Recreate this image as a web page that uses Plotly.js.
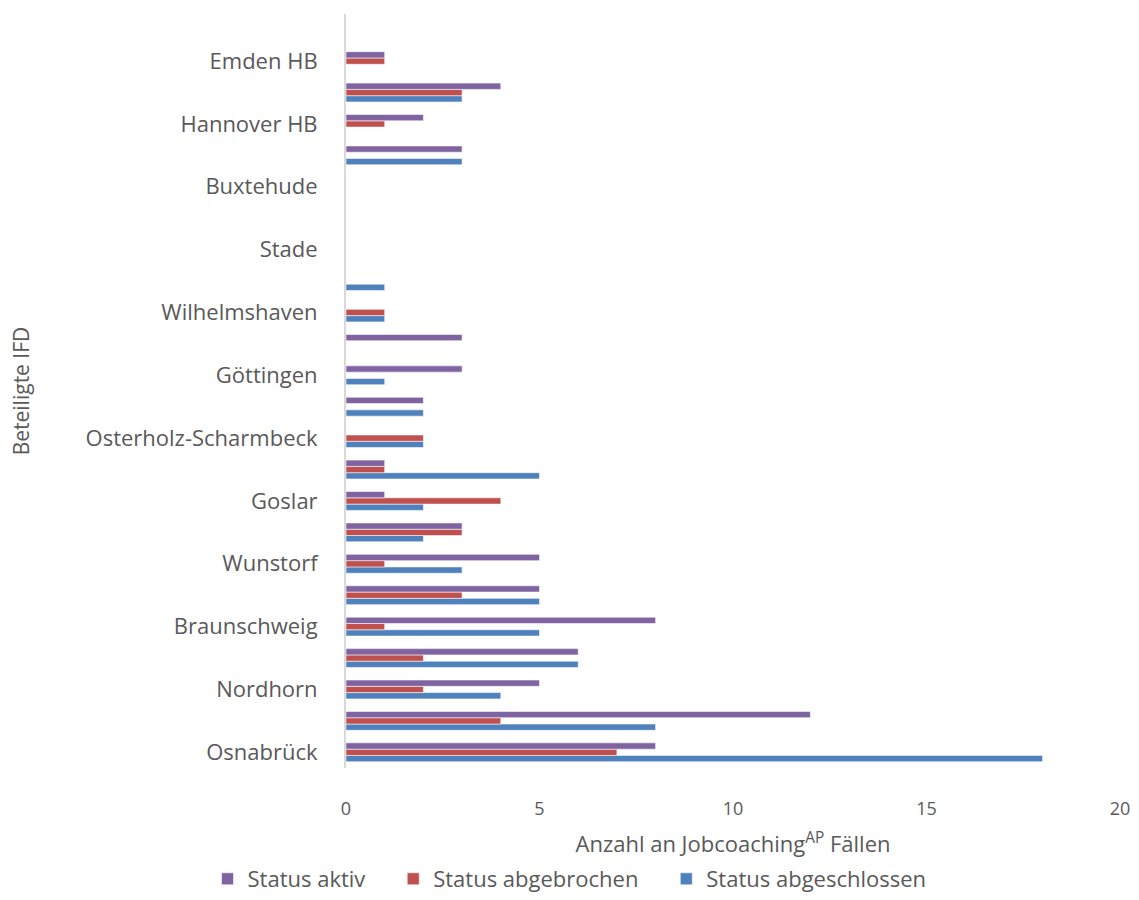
<!DOCTYPE html>
<html>
<head>
<meta charset="utf-8">
<script src="https://cdn.plot.ly/plotly-3.0.1.min.js"></script>
<style>html,body{margin:0;padding:0;background:#fff;}#chart{width:1139px;height:900px;}</style>
</head>
<body>
<div id="chart"></div>
<script>
// Categories from bottom (Osnabrück) to top (Emden HB); unlabeled rows in the original are placeholders
const categories = [
  "Osnabrück", "Zeile 2", "Nordhorn", "Zeile 4", "Braunschweig", "Zeile 6",
  "Wunstorf", "Zeile 8", "Goslar", "Zeile 10", "Osterholz-Scharmbeck", "Zeile 12",
  "Göttingen", "Zeile 14", "Wilhelmshaven", "Zeile 16", "Stade", "Zeile 18",
  "Buxtehude", "Zeile 20", "Hannover HB", "Zeile 22", "Emden HB"
];
const labeledCategories = [
  "Osnabrück", "Nordhorn", "Braunschweig", "Wunstorf", "Goslar",
  "Osterholz-Scharmbeck", "Göttingen", "Wilhelmshaven", "Stade",
  "Buxtehude", "Hannover HB", "Emden HB"
];
const statusAktiv        = [8, 12, 5, 6, 8, 5, 5, 3, 1, 1, 0, 2, 3, 3, 0, 0, 0, 0, 0, 3, 2, 4, 1];
const statusAbgebrochen  = [7, 4, 2, 2, 1, 3, 1, 3, 4, 1, 2, 0, 0, 0, 1, 0, 0, 0, 0, 0, 1, 3, 1];
const statusAbgeschlossen= [18, 8, 4, 6, 5, 5, 3, 2, 2, 5, 2, 2, 1, 0, 1, 1, 0, 0, 0, 3, 0, 3, 0];
const xTicks = [0, 5, 10, 15, 20];
const seriesNames = ["Status aktiv", "Status abgebrochen", "Status abgeschlossen"];

const fontFam = "'Open Sans', sans-serif";
const grey = "#595959";
const outline = {color: "rgba(255,255,255,0.7)", width: 0.8};
const pad = "\u00a0\u00a0\u00a0\u00a0";

const traces = [
  {type: "bar", orientation: "h", name: seriesNames[2], y: categories, x: statusAbgeschlossen,
   marker: {color: "#4F81BD", line: outline}},
  {type: "bar", orientation: "h", name: seriesNames[1] + pad, y: categories, x: statusAbgebrochen,
   marker: {color: "#C0504D", line: outline}},
  {type: "bar", orientation: "h", name: seriesNames[0] + pad, y: categories, x: statusAktiv,
   marker: {color: "#8064A2", line: outline}}
];

const layout = {
  width: 1139, height: 900,
  margin: {l: 346, r: 19, t: 14, b: 132},
  paper_bgcolor: "#fff", plot_bgcolor: "#fff",
  font: {family: fontFam, color: grey, size: 22},
  barmode: "group",
  bargap: 0.4,
  bargroupgap: 0,
  showlegend: true,
  hovermode: false,
  xaxis: {
    range: [0, 20],
    tickvals: xTicks,
    showgrid: false,
    zeroline: false,
    showline: false,
    ticks: "",
    ticklabelstandoff: 28,
    tickfont: {size: 18, color: grey, family: fontFam},
    title: {text: "Anzahl an Jobcoaching<sup>AP</sup> Fällen", font: {size: 22, color: grey, family: fontFam}, standoff: 25}
  },
  yaxis: {
    type: "category",
    categoryorder: "array",
    categoryarray: categories,
    range: [-0.5, 23.5],
    tickvals: labeledCategories,
    ticktext: labeledCategories,
    showgrid: false,
    zeroline: false,
    showline: true,
    linecolor: "#d9d9d9",
    linewidth: 2,
    ticks: "",
    ticklabelstandoff: 22,
    tickfont: {size: 22, color: grey, family: fontFam},
    title: {text: "Beteiligte IFD", font: {size: 21, color: grey, family: fontFam}, standoff: 50}
  },
  legend: {
    orientation: "h",
    traceorder: "reversed",
    xref: "container", yref: "container",
    x: 0.5, xanchor: "center",
    y: 0, yanchor: "bottom",
    font: {size: 22, color: grey, family: fontFam}
  }
};

Plotly.newPlot("chart", traces, layout, {displayModeBar: false, staticPlot: true});
</script>
</body>
</html>
